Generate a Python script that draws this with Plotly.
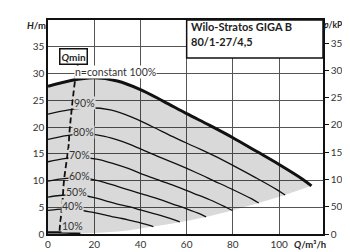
import plotly.graph_objects as go

# Flow Q (m³/h) and head H (m)
q100 = [0, 10, 20, 30, 40, 50, 60, 70, 80, 90, 100, 110, 114]
h100 = [27.6, 28.7, 29.2, 28.6, 27.0, 24.8, 22.5, 20.3, 18.0, 15.5, 13.0, 10.3, 9.0]

q90 = [0, 9, 18, 27, 36, 45, 54, 63, 72, 81, 90, 99, 102.6]
h90 = [22.4, 23.2, 23.6, 23.2, 21.9, 20.1, 18.2, 16.4, 14.6, 12.6, 10.5, 8.3, 7.3]

q80 = [0, 8, 16, 24, 32, 40, 48, 56, 64, 72, 80, 88, 91.2]
h80 = [17.7, 18.4, 18.7, 18.3, 17.3, 15.9, 14.4, 13.0, 11.5, 9.9, 8.3, 6.6, 5.8]

q70 = [0, 7, 14, 21, 28, 35, 42, 49, 56, 63, 70, 77, 79.8]
h70 = [13.5, 14.1, 14.3, 14.0, 13.2, 12.2, 11.0, 9.9, 8.8, 7.6, 6.4, 5.0, 4.4]

q60 = [0, 6, 12, 18, 24, 30, 36, 42, 48, 54, 60, 66, 68.4]
h60 = [9.9, 10.3, 10.5, 10.3, 9.7, 8.9, 8.1, 7.3, 6.5, 5.6, 4.7, 3.7, 3.2]

q50 = [0, 5, 10, 15, 20, 25, 30, 35, 40, 45, 50, 55, 57]
h50 = [6.9, 7.2, 7.3, 7.2, 6.8, 6.2, 5.6, 5.1, 4.5, 3.9, 3.3, 2.6, 2.25]

q40 = [0, 4, 8, 12, 16, 20, 24, 28, 32, 36, 40, 44, 45.6]
h40 = [4.4, 4.6, 4.7, 4.6, 4.3, 4.0, 3.6, 3.2, 2.9, 2.5, 2.1, 1.6, 1.4]

q10 = [0, 4, 8, 12, 14]
h10 = [0.3, 0.3, 0.25, 0.15, 0.1]

# lower boundary of operating range (end points of speed curves)
q_low = [0, 15, 33.6, 45.6, 57, 68.4, 79.8, 91.2, 102.6, 114]
h_low = [0, 0.1, 0.6, 1.4, 2.2, 3.2, 4.4, 5.8, 7.3, 9.0]

# Qmin line
q_min = [13.0, 11.8, 9.3, 8.9, 6.9, 6.2, 5.2, 5.0]
h_min = [31.8, 29.0, 19.1, 16.5, 9.9, 5.6, 1.7, 0.5]

x_ticks = [0, 20, 40, 60, 80, 100]
h_ticks = [0, 5, 10, 15, 20, 25, 30, 35]
p_ticks = [0, 50, 100, 150, 200, 250, 300, 350]

speed_labels = ["90%", "80%", "70%", "60%", "50%", "40%", "10%"]
label_q = [16.0, 15.4, 13.6, 13.6, 12.3, 10.8, 10.4]
label_h = [24.4, 19.0, 14.8, 10.9, 7.8, 5.2, 1.5]

X_MAX = 119
H_MAX = 40
P_MAX = H_MAX * 9.81

FONT = "Lato"

fig = go.Figure()

# grey operating area
fig.add_trace(go.Scatter(x=q_low, y=h_low, mode="lines", line=dict(width=0, shape="spline"),
                         showlegend=False, hoverinfo="skip"))
fig.add_trace(go.Scatter(x=q100, y=h100, mode="lines", line=dict(width=0, shape="spline"),
                         fill="tonexty", fillcolor="rgba(0,0,0,0.15)",
                         showlegend=False, hoverinfo="skip"))

for qs, hs in [(q90, h90), (q80, h80), (q70, h70), (q60, h60), (q50, h50), (q40, h40)]:
    fig.add_trace(go.Scatter(x=qs, y=hs, mode="lines",
                             line=dict(color="#111", width=1.3, shape="spline"),
                             showlegend=False, hoverinfo="skip"))
fig.add_trace(go.Scatter(x=q10, y=h10, mode="lines",
                         line=dict(color="#111", width=2.2, shape="spline"),
                         showlegend=False, hoverinfo="skip"))
fig.add_trace(go.Scatter(x=q100, y=h100, mode="lines",
                         line=dict(color="#111", width=3, shape="spline"),
                         showlegend=False, hoverinfo="skip"))
fig.add_trace(go.Scatter(x=q_min, y=h_min, mode="lines",
                         line=dict(color="#111", width=1.8, dash="6px,3px", shape="spline"),
                         showlegend=False, hoverinfo="skip"))
# invisible trace to activate pressure axis
fig.add_trace(go.Scatter(x=[0], y=[0], yaxis="y2", mode="markers", marker=dict(opacity=0),
                         showlegend=False, hoverinfo="skip"))

# title box
fig.add_shape(type="rect", x0=60, x1=X_MAX, y0=32.9, y1=H_MAX, xref="x", yref="y",
              fillcolor="white", line=dict(color="#111", width=1.5), layer="above")

ann = []
ann.append(dict(x=60.9, y=38.85, text="<b>Wilo-Stratos GIGA B</b>", xanchor="left",
                yanchor="middle", showarrow=False, font=dict(family=FONT, size=11, color="#222")))
ann.append(dict(x=60.9, y=35.95, text="<b>80/1-27/4,5</b>", xanchor="left",
                yanchor="middle", showarrow=False, font=dict(family=FONT, size=11, color="#222")))
ann.append(dict(x=11.2, y=33.1, text="<b><i>Q</i>min</b>", showarrow=False,
                bgcolor="white", bordercolor="#111", borderwidth=1.5, borderpad=1,
                font=dict(family=FONT, size=10, color="#222")))
ann.append(dict(x=29.4, y=30.3, text="n=constant 100%", showarrow=False, bgcolor="white",
                borderpad=0, font=dict(family=FONT, size=10.5, color="#333")))
for t, qx, hy in zip(speed_labels, label_q, label_h):
    ann.append(dict(x=qx, y=hy, text=t, showarrow=False, bgcolor="#d9d9d9", borderpad=0,
                    font=dict(family=FONT, size=10.5, color="#333")))
ann.append(dict(x=-0.042, y=0.975, xref="paper", yref="paper", text="<b><i>H</i>/m</b>",
                xanchor="center", yanchor="middle",
                showarrow=False, font=dict(family=FONT, size=9.5, color="#222")))
ann.append(dict(x=1.09, y=0.975, xref="paper", yref="paper", text="<b><i>p</i>/kPa</b>",
                xanchor="right", yanchor="middle", borderpad=0,
                showarrow=False, font=dict(family=FONT, size=8.5, color="#222")))
ann.append(dict(x=0.954, y=-0.0475, xref="paper", yref="paper", text="<b><i>Q</i>/m³/h</b>",
                xanchor="center", yanchor="middle",
                showarrow=False, font=dict(family=FONT, size=9.5, color="#222")))

fig.update_layout(
    width=350, height=252,
    margin=dict(l=40, r=27, t=10, b=21),
    paper_bgcolor="white", plot_bgcolor="white",
    annotations=ann,
    xaxis=dict(range=[0, X_MAX], tickvals=x_ticks, showgrid=True, gridcolor="#555",
               gridwidth=1.3, showline=True, linecolor="#111", linewidth=1.5, mirror=True,
               zeroline=False, ticks="", tickfont=dict(family=FONT, size=10, color="#333")),
    yaxis=dict(range=[0, H_MAX], tickvals=h_ticks, showgrid=True, gridcolor="#555",
               gridwidth=1.3, showline=True, linecolor="#111", linewidth=1.5, mirror=True,
               zeroline=False, ticks="", tickfont=dict(family=FONT, size=10, color="#333")),
    yaxis2=dict(range=[0, P_MAX], tickvals=p_ticks, overlaying="y", side="right",
                showgrid=False, zeroline=False, showline=True, linecolor="#111", linewidth=1.5,
                ticks="outside", ticklen=4, tickcolor="#111",
                tickfont=dict(family=FONT, size=10, color="#333")),
)

fig.write_html("out.html")
